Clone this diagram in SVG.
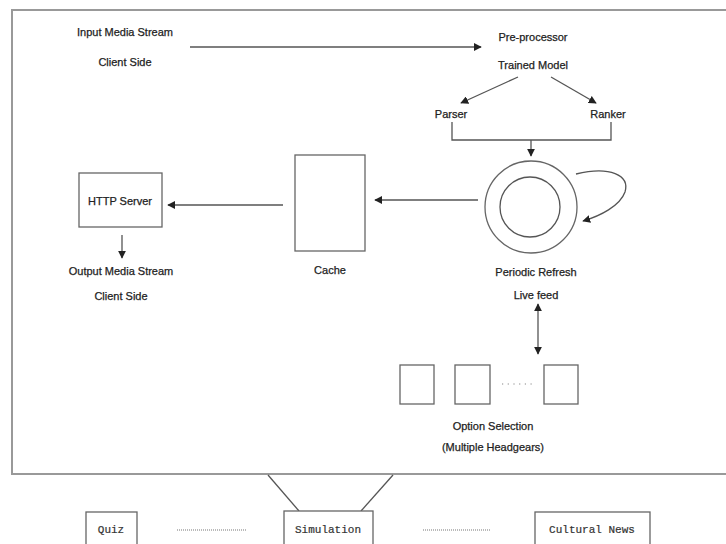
<svg xmlns="http://www.w3.org/2000/svg" width="726" height="544" viewBox="0 0 726 544">
<style>
.t{font-family:"Liberation Sans",Arial,sans-serif;font-size:11px;fill:#222;stroke:#222;stroke-width:0.25;text-anchor:middle}
.m{font-family:"Liberation Mono","Courier New",monospace;font-size:11px;fill:#333;stroke:#333;stroke-width:0.2;text-anchor:middle}
.l{fill:none;stroke:#555;stroke-width:1.3}
.b{fill:#fff;stroke:#666;stroke-width:1.3}
.f{fill:none;stroke:#999;stroke-width:2}
</style>
<defs>
<marker id="ah" viewBox="0 0 10 10" refX="9" refY="5" markerWidth="8" markerHeight="8" orient="auto-start-reverse" markerUnits="userSpaceOnUse">
<path d="M0,0 L10,5 L0,10 z" fill="#222"/>
</marker>
</defs>
<rect width="726" height="544" fill="#fff"/>
<rect x="12" y="10" width="730" height="464" fill="#fcfcfc" class="f"/>

<g id="connectors">
<line class="l" x1="190" y1="47" x2="481" y2="47" marker-end="url(#ah)"/>
<line class="l" x1="518" y1="77" x2="461" y2="103" marker-end="url(#ah)"/>
<line class="l" x1="551" y1="77" x2="596" y2="103" marker-end="url(#ah)"/>
<polyline class="l" points="452,122 452,140 611,140 611,122"/>
<line class="l" x1="531" y1="140" x2="531" y2="156" marker-end="url(#ah)"/>
<path class="l" d="M576,174 C610,166 630,175 625,192 C620,206 600,216 583,221" marker-end="url(#ah)"/>
<line class="l" x1="478" y1="200" x2="375" y2="200" marker-end="url(#ah)"/>
<line class="l" x1="283" y1="205" x2="168" y2="205" marker-end="url(#ah)"/>
<line class="l" x1="122" y1="235" x2="122" y2="258" marker-end="url(#ah)"/>
<line class="l" x1="538" y1="304" x2="538" y2="354" marker-start="url(#ah)" marker-end="url(#ah)"/>
<line class="l" x1="268" y1="475" x2="299" y2="511"/>
<line class="l" x1="393" y1="475" x2="361" y2="511"/>
<line x1="177" y1="530" x2="247" y2="530" stroke="#777" stroke-width="1.2" stroke-dasharray="1,1"/>
<line x1="423" y1="530" x2="490" y2="530" stroke="#777" stroke-width="1.2" stroke-dasharray="1,1"/>
</g>

<g id="input"><text class="t" x="125" y="36">Input Media Stream</text><text class="t" x="125" y="66">Client Side</text></g>
<g id="preprocessor"><text class="t" x="533" y="41">Pre-processor</text></g>
<g id="trained-model"><text class="t" x="533" y="69">Trained Model</text></g>
<g id="parser"><text class="t" x="451" y="118">Parser</text></g>
<g id="ranker"><text class="t" x="608" y="118">Ranker</text></g>
<g id="refresh">
<circle class="b" cx="531" cy="207" r="46"/>
<circle class="l" cx="530" cy="207" r="30"/>
<text class="t" x="536" y="276">Periodic Refresh</text>
<text class="t" x="536" y="299">Live feed</text>
</g>
<g id="cache"><rect class="b" x="295" y="155" width="70" height="96"/><text class="t" x="330" y="274">Cache</text></g>
<g id="http-server"><rect class="b" x="79" y="173" width="83" height="54"/><text class="t" x="120" y="205">HTTP Server</text></g>
<g id="output"><text class="t" x="121" y="275">Output Media Stream</text><text class="t" x="121" y="300">Client Side</text></g>
<g id="options">
<rect class="b" x="400" y="365" width="34" height="39"/>
<rect class="b" x="455" y="365" width="35" height="39"/>
<rect class="b" x="544" y="365" width="34" height="39"/>
<line x1="502" y1="384" x2="532" y2="384" stroke="#888" stroke-width="1.2" stroke-dasharray="1.2,4.5"/>
<text class="t" x="493" y="430">Option Selection</text>
<text class="t" x="493" y="451">(Multiple Headgears)</text>
</g>
<g id="quiz"><rect class="b" x="86" y="512" width="51" height="40"/><text class="m" x="111" y="533">Quiz</text></g>
<g id="simulation"><rect class="b" x="284" y="511" width="89" height="40"/><text class="m" x="328" y="533">Simulation</text></g>
<g id="cultural-news"><rect class="b" x="535" y="512" width="115" height="40"/><text class="m" x="592" y="533">Cultural News</text></g>
</svg>
